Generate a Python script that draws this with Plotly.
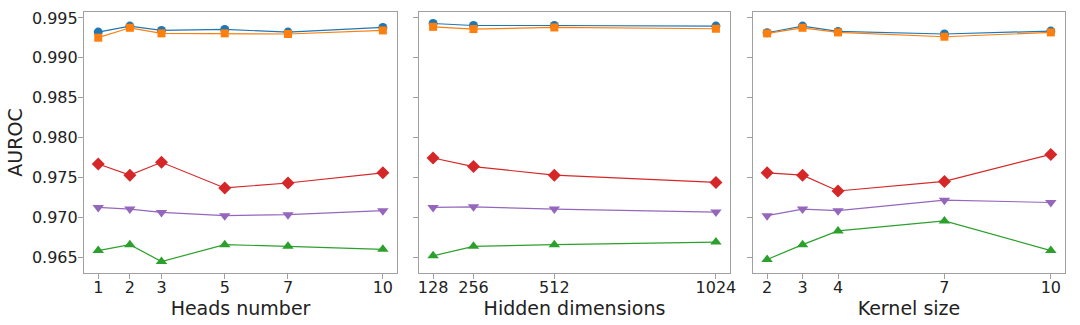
import plotly.graph_objects as go
from plotly.subplots import make_subplots

heads = [1, 2, 3, 5, 7, 10]
hidden = [128, 256, 512, 1024]
kernel = [2, 3, 4, 7, 10]

# series values per panel (blue, orange, green, red, purple)
heads_blue = [0.99322, 0.99397, 0.99343, 0.99355, 0.99322, 0.99380]
heads_orange = [0.99252, 0.99376, 0.99306, 0.99306, 0.99298, 0.99343]
heads_red = [0.97669, 0.97529, 0.97690, 0.97368, 0.97430, 0.97558]
heads_purple = [0.97124, 0.97103, 0.97062, 0.97021, 0.97033, 0.97083]
heads_green = [0.96583, 0.96657, 0.96446, 0.96657, 0.96636, 0.96599]

hidden_blue = [0.99430, 0.99405, 0.99405, 0.99397]
hidden_orange = [0.99388, 0.99360, 0.99380, 0.99364]
hidden_red = [0.97744, 0.97636, 0.97529, 0.97438]
hidden_purple = [0.97124, 0.97132, 0.97103, 0.97066]
hidden_green = [0.96517, 0.96636, 0.96657, 0.96690]

kernel_blue = [0.99314, 0.99397, 0.99331, 0.99298, 0.99335]
kernel_orange = [0.99306, 0.99376, 0.99318, 0.99264, 0.99318]
kernel_red = [0.97558, 0.97529, 0.97330, 0.97450, 0.97789]
kernel_purple = [0.97021, 0.97103, 0.97083, 0.97215, 0.97186]
kernel_green = [0.96471, 0.96657, 0.96830, 0.96955, 0.96583]

y_ticks = [0.965, 0.970, 0.975, 0.980, 0.985, 0.990, 0.995]

styles = [
    ("blue", "#1f77b4", "circle", 9),
    ("orange", "#ff7f0e", "square", 8),
    ("green", "#2ca02c", "triangle-up", 10),
    ("red", "#d62728", "diamond", 10),
    ("purple", "#9467bd", "triangle-down", 10),
]

panels = [
    (heads, {"blue": heads_blue, "orange": heads_orange, "green": heads_green, "red": heads_red, "purple": heads_purple}, "Heads number", [0.55, 10.45]),
    (hidden, {"blue": hidden_blue, "orange": hidden_orange, "green": hidden_green, "red": hidden_red, "purple": hidden_purple}, "Hidden dimensions", [83.2, 1068.8]),
    (kernel, {"blue": kernel_blue, "orange": kernel_orange, "green": kernel_green, "red": kernel_red, "purple": kernel_purple}, "Kernel size", [1.6, 10.4]),
]

fig = make_subplots(rows=1, cols=3, shared_yaxes=False)

W = 987.0
domains = [[0, 315 / W], [337 / W, 650 / W], [673 / W, 1.0]]

font_family = "DejaVu Sans"
frame = "#a0a0a0"
txt = "#222222"

for i, (xs, series, title, xr) in enumerate(panels):
    col = i + 1
    for key, color, sym, size in styles:
        fig.add_trace(
            go.Scatter(
                x=xs, y=series[key], mode="lines+markers",
                line=dict(color=color, width=1.2),
                marker=dict(symbol=sym, size=size, color=color, line=dict(width=0)),
                showlegend=False, name=key,
            ),
            row=1, col=col,
        )
    xa = "xaxis" if col == 1 else f"xaxis{col}"
    ya = "yaxis" if col == 1 else f"yaxis{col}"
    fig.layout[xa].update(
        domain=domains[i], range=xr, tickmode="array", tickvals=xs,
        ticktext=[str(v) for v in xs],
        showgrid=False, zeroline=False, showline=True, mirror=True,
        linecolor=frame, linewidth=1.2, ticks="outside", ticklen=5,
        tickcolor=frame, tickfont=dict(size=16, color=txt, family=font_family),
        ticklabelstandoff=-5,
        title=dict(text=title, font=dict(size=19, color=txt, family=font_family), standoff=0),
    )
    fig.layout[ya].update(
        range=[0.96302, 0.99574], tickmode="array", tickvals=y_ticks,
        ticktext=[f"{v:.3f}" for v in y_ticks] if col == 1 else [""] * len(y_ticks),
        showticklabels=(col == 1),
        showgrid=False, zeroline=False, showline=True, mirror=True,
        linecolor=frame, linewidth=1.2, ticks="outside", ticklen=5,
        tickcolor=frame, tickfont=dict(size=16, color=txt, family=font_family),
        ticklabelstandoff=-3,
    )

fig.layout.yaxis.title = dict(text="AUROC", font=dict(size=19, color=txt, family=font_family), standoff=4)

fig.update_layout(
    width=1080, height=325,
    margin=dict(l=84, r=9, t=9, b=52),
    paper_bgcolor="white", plot_bgcolor="white",
    font=dict(family=font_family),
)

fig.write_html("out.html")
